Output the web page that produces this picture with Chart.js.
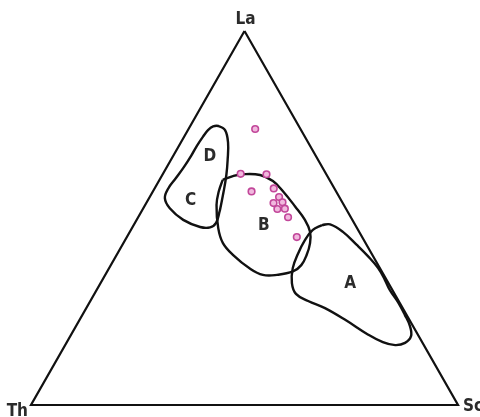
<!DOCTYPE html>
<html>
<head>
<meta charset="utf-8">
<script src="https://cdn.jsdelivr.net/npm/chart.js@4.4.1/dist/chart.umd.min.js"></script>
<style>
  html, body { margin: 0; padding: 0; background: #fff; }
  canvas { display: block; }
</style>
</head>
<body>
<canvas id="chart" width="480" height="417"></canvas>
<script>
// all points are ternary [La, Th, Sc] in %
const apexLabels = ['La', 'Th', 'Sc'];
const triangle = [[100, 0, 0], [0, 100, 0], [0, 0, 100], [100, 0, 0]];

const samples = [
  [73.8, 10.6, 15.6], [61.8, 20.0, 18.2], [61.7, 14.0, 24.3], [57.1, 19.8, 23.1],
  [57.9, 14.2, 27.9], [55.6, 14.1, 30.3], [54.0, 16.2, 29.8], [54.2, 14.0, 31.8],
  [52.4, 16.1, 31.5], [52.5, 14.3, 33.2], [50.2, 14.7, 35.1], [44.9, 15.3, 39.8]
];

const fieldA = [
  [48.1, 7.8, 44.1], [48.3, 5.8, 45.9], [46.3, 3.8, 49.9], [42.8, 2.3, 54.9],
  [39.8, 1.2, 59.0], [36.6, 0.4, 63.0], [33.4, 0.4, 66.2], [30.7, 0.6, 68.7],
  [27.5, 0.3, 72.2], [24.1, 0.4, 75.5], [21.1, 0.7, 78.2], [18.4, 1.8, 79.8],
  [16.6, 4.1, 79.3], [16.0, 6.7, 77.3], [16.8, 9.2, 74.0], [19.0, 11.8, 69.2],
  [22.5, 14.8, 62.7], [25.9, 18.2, 55.9], [27.8, 21.2, 51.0], [29.7, 23.1, 47.2],
  [32.6, 22.6, 44.8], [36.6, 20.4, 43.0], [40.4, 17.3, 42.3], [44.1, 13.8, 42.1],
  [46.8, 10.6, 42.6]
];

const fieldB = [
  [60.2, 25.0, 14.8], [61.2, 22.1, 16.7], [61.7, 19.5, 18.8], [61.5, 15.6, 22.9],
  [59.9, 13.4, 26.7], [57.1, 12.4, 30.5], [53.1, 11.6, 35.3], [49.5, 11.1, 39.4],
  [46.3, 11.5, 42.2], [43.3, 13.0, 43.7], [40.1, 15.4, 44.5], [37.4, 18.0, 44.6],
  [35.7, 20.8, 43.5], [34.8, 25.0, 40.2], [34.8, 28.3, 36.9], [36.5, 30.5, 33.0],
  [40.1, 32.6, 27.3], [43.3, 33.4, 23.3], [47.3, 32.5, 20.2], [53.5, 29.8, 16.7],
  [57.2, 27.4, 15.4]
];

const fieldCD = [
  [52.1, 29.7, 18.2], [48.7, 32.3, 19.0], [47.5, 34.3, 18.2], [47.6, 36.6, 15.8],
  [49.5, 39.6, 10.9], [52.6, 41.2, 6.2], [55.3, 41.0, 3.7], [57.9, 38.9, 3.2],
  [60.7, 35.7, 3.6], [63.6, 32.4, 4.0], [66.6, 29.2, 4.2], [69.3, 26.5, 4.2],
  [71.7, 23.9, 4.4], [73.5, 21.8, 4.7], [74.5, 20.1, 5.4], [74.6, 18.8, 6.6],
  [73.5, 17.8, 8.7], [70.1, 18.8, 11.1], [65.5, 21.2, 13.3], [61.5, 23.5, 15.0],
  [57.0, 26.4, 16.6]
];

const fieldLabels = ['A', 'B', 'C', 'D'];
const fieldLabelPos = [[32.5, 9.0, 58.5], [48.1, 21.4, 30.5], [54.6, 35.3, 10.1], [66.4, 24.9, 8.7]];

const FONT = "'DejaVu Sans Condensed', 'Liberation Sans Narrow', 'Liberation Sans', sans-serif";

function toXY(p) {
  const s = p[0] + p[1] + p[2];
  const la = p[0] / s * 100, sc = p[2] / s * 100;
  return { x: sc + la / 2, y: la };
}

function closed(pts) {
  return pts.concat([pts[0]]).map(toXY);
}

function outline(pts) {
  return {
    data: closed(pts),
    showLine: true,
    tension: 0.4,
    borderColor: '#111',
    borderWidth: 2.4,
    pointRadius: 0,
    fill: false,
    clip: false
  };
}

const labelPlugin = {
  id: 'ternaryLabels',
  afterDatasetsDraw(chart) {
    const ctx = chart.ctx;
    const xs = chart.scales.x, ys = chart.scales.y;
    const px = p => {
      const q = toXY(p);
      return [xs.getPixelForValue(q.x), ys.getPixelForValue(q.y)];
    };
    ctx.save();
    ctx.fillStyle = '#2b2b2b';
    ctx.font = 'bold 17px ' + FONT;
    ctx.textBaseline = 'middle';

    // field letters
    ctx.textAlign = 'center';
    fieldLabels.forEach((t, i) => {
      const [x, y] = px(fieldLabelPos[i]);
      ctx.fillText(t, x, y);
    });

    // apex names
    let [x, y] = px(triangle[0]);
    ctx.textAlign = 'center';
    ctx.fillText(apexLabels[0], x + 1, y - 11);
    [x, y] = px(triangle[1]);
    ctx.textAlign = 'right';
    ctx.fillText(apexLabels[1], x - 3, y + 7);
    [x, y] = px(triangle[2]);
    ctx.textAlign = 'left';
    ctx.fillText(apexLabels[2], x + 5, y + 2);
    ctx.restore();
  }
};

new Chart(document.getElementById('chart').getContext('2d'), {
  type: 'scatter',
  data: {
    datasets: [
      {
        data: samples.map(toXY),
        pointRadius: 3.3,
        pointBorderWidth: 1.6,
        pointBackgroundColor: '#f1b8de',
        pointBorderColor: '#c2479a',
        showLine: false
      },
      outline(fieldA),
      outline(fieldB),
      outline(fieldCD),
      {
        data: triangle.map(toXY),
        showLine: true,
        tension: 0,
        borderColor: '#111',
        borderWidth: 2.2,
        pointRadius: 0,
        clip: false
      }
    ]
  },
  options: {
    responsive: false,
    animation: false,
    events: [],
    layout: { padding: { left: 31, top: 31, right: 22, bottom: 12 } },
    plugins: { legend: { display: false }, tooltip: { enabled: false } },
    scales: {
      x: { type: 'linear', min: 0, max: 100, display: false },
      y: { type: 'linear', min: 0, max: 100, display: false }
    }
  },
  plugins: [labelPlugin]
});
</script>
</body>
</html>
